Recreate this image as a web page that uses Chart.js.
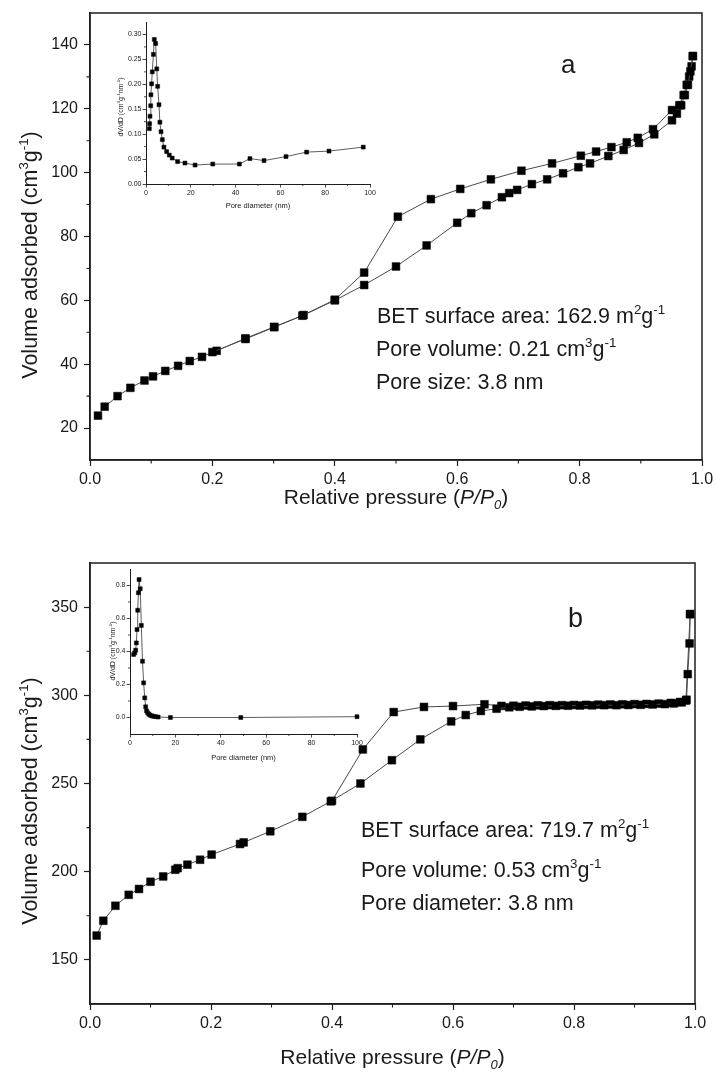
<!DOCTYPE html>
<html>
<head>
<meta charset="utf-8">
<script src="https://cdn.jsdelivr.net/npm/chart.js@4.4.0/dist/chart.umd.min.js"></script>
<style>
  html, body { margin: 0; padding: 0; background: #fff; }
  #wrap { position: relative; width: 715px; height: 1075px; overflow: hidden; }
  canvas { position: absolute; }
</style>
</head>
<body>
<div id="wrap">
  <canvas id="mainA" width="715" height="530" style="left:0;top:0"></canvas>
  <canvas id="insetA" width="280" height="200" style="left:100px;top:15px"></canvas>
  <canvas id="mainB" width="715" height="545" style="left:0;top:530px"></canvas>
  <canvas id="insetB" width="285" height="205" style="left:85px;top:560px"></canvas>
</div>
<script>
// ---- panel a: isotherm ----
const adsAx = [0.013, 0.024, 0.045, 0.066, 0.089, 0.103, 0.123, 0.144, 0.163, 0.183, 0.200, 0.254, 0.301, 0.347, 0.400, 0.448, 0.500, 0.550, 0.600, 0.623, 0.648, 0.673, 0.685, 0.698, 0.722, 0.747, 0.773, 0.798, 0.817, 0.847, 0.872, 0.897, 0.922, 0.951, 0.959, 0.966, 0.972, 0.977, 0.981, 0.985];
const adsAy = [23.9, 26.7, 30.0, 32.6, 34.9, 36.2, 37.9, 39.5, 41.0, 42.3, 43.8, 47.9, 51.6, 55.2, 60.0, 64.8, 70.6, 77.2, 84.3, 87.3, 89.8, 92.3, 93.6, 94.6, 96.4, 97.9, 99.8, 101.7, 102.9, 105.2, 107.1, 109.3, 112.0, 116.4, 118.5, 121.1, 124.3, 127.5, 131.7, 136.5];
const desAx = [0.985, 0.983, 0.979, 0.975, 0.970, 0.963, 0.951, 0.920, 0.895, 0.877, 0.852, 0.827, 0.802, 0.755, 0.705, 0.655, 0.605, 0.557, 0.503, 0.448, 0.400, 0.349, 0.301, 0.254, 0.207];
const desAy = [136.5, 133.3, 130.1, 127.5, 124.3, 121.1, 119.6, 113.6, 110.9, 109.5, 108.0, 106.6, 105.3, 102.9, 100.6, 97.9, 94.9, 91.7, 86.2, 68.7, 60.2, 55.4, 51.7, 48.1, 44.2];

// ---- panel a: pore size distribution (inset) ----
const insAx = [1.5, 1.6, 1.8, 2.1, 2.2, 2.5, 2.8, 3.3, 3.7, 4.3, 4.8, 5.2, 5.8, 6.2, 6.7, 7.3, 8.0, 9.2, 10.4, 11.7, 14.1, 17.4, 21.9, 29.8, 41.7, 46.4, 52.7, 62.5, 71.7, 81.7, 97.0];
const insAy = [0.111, 0.121, 0.136, 0.157, 0.179, 0.201, 0.225, 0.260, 0.290, 0.282, 0.231, 0.196, 0.159, 0.124, 0.105, 0.089, 0.074, 0.065, 0.058, 0.052, 0.045, 0.042, 0.038, 0.040, 0.040, 0.051, 0.047, 0.055, 0.064, 0.066, 0.074];

// ---- panel b: isotherm ----
const adsBx = [0.011, 0.022, 0.042, 0.064, 0.081, 0.100, 0.121, 0.141, 0.145, 0.161, 0.182, 0.201, 0.248, 0.254, 0.298, 0.351, 0.398, 0.447, 0.499, 0.546, 0.597, 0.621, 0.646, 0.672, 0.693, 0.710, 0.730, 0.750, 0.770, 0.790, 0.810, 0.830, 0.850, 0.870, 0.890, 0.910, 0.930, 0.950, 0.965, 0.978, 0.986, 0.988, 0.991, 0.992];
const adsBy = [163.8, 172.2, 180.7, 186.9, 190.2, 194.3, 197.3, 201.1, 202.0, 204.0, 206.8, 209.7, 215.7, 216.6, 222.9, 231.1, 239.9, 250.0, 263.2, 275.0, 285.2, 288.8, 291.1, 292.4, 293.2, 293.5, 293.7, 293.9, 294.0, 294.1, 294.2, 294.3, 294.4, 294.4, 294.5, 294.6, 294.8, 295.0, 295.4, 296.0, 297.5, 312.0, 329.4, 346.0];
const desBx = [0.992, 0.985, 0.975, 0.960, 0.940, 0.920, 0.900, 0.880, 0.860, 0.840, 0.820, 0.800, 0.780, 0.760, 0.740, 0.720, 0.700, 0.680, 0.652, 0.600, 0.552, 0.502, 0.451, 0.400];
const desBy = [346.0, 297.0, 296.2, 295.7, 295.3, 295.1, 295.0, 294.9, 294.8, 294.7, 294.6, 294.5, 294.4, 294.4, 294.3, 294.2, 294.1, 294.0, 294.9, 293.9, 293.4, 290.5, 269.3, 240.2];

// ---- panel b: pore size distribution (inset) ----
const insBx = [1.6, 2.1, 2.5, 2.8, 3.1, 3.4, 3.7, 4.0, 4.5, 5.0, 5.5, 6.0, 6.5, 6.9, 7.3, 7.8, 8.3, 8.9, 9.6, 10.4, 11.3, 12.4, 17.8, 48.8, 100];
const insBy = [0.382, 0.392, 0.408, 0.452, 0.533, 0.650, 0.756, 0.836, 0.780, 0.558, 0.341, 0.210, 0.119, 0.065, 0.040, 0.028, 0.020, 0.014, 0.010, 0.007, 0.005, 0.003, 0.000, 0.000, 0.005];

// ---- ticks ----
const xTicksMain = [0, 0.2, 0.4, 0.6, 0.8, 1.0];
const xMinorMain = [0.1, 0.3, 0.5, 0.7, 0.9];
const yTicksA = [20, 40, 60, 80, 100, 120, 140];
const yMinorA = [30, 50, 70, 90, 110, 130];
const yTicksB = [150, 200, 250, 300, 350];
const yMinorB = [175, 225, 275, 325];
const xTicksIns = [0, 20, 40, 60, 80, 100];
const xMinorIns = [10, 30, 50, 70, 90];
const yTicksInsA = [0, 0.05, 0.10, 0.15, 0.20, 0.25, 0.30];
const yMinorInsA = [0.025, 0.075, 0.125, 0.175, 0.225, 0.275];
const yTicksInsB = [0, 0.2, 0.4, 0.6, 0.8];
const yMinorInsB = [0.1, 0.3, 0.5, 0.7];

const F = '"Liberation Sans", Arial, sans-serif';
const AXIS = '#1e1e1e';
const TXT = '#1a1a1a';

// draws text with superscript / subscript / italic pieces
function richText(ctx, parts, x, y, size, align) {
  const fontFor = m => {
    const small = (m === 'sup' || m === 'sub' || m === 'isub');
    const it = (m === 'i' || m === 'isub') ? 'italic ' : '';
    return it + (small ? size * 0.62 : size) + 'px ' + F;
  };
  let w = 0;
  parts.forEach(p => { ctx.font = fontFor(p[1]); w += ctx.measureText(p[0]).width; });
  let cx = align === 'center' ? x - w / 2 : x;
  ctx.textAlign = 'left';
  ctx.textBaseline = 'alphabetic';
  parts.forEach(p => {
    ctx.font = fontFor(p[1]);
    let dy = 0;
    if (p[1] === 'sup') dy = -size * 0.42;
    if (p[1] === 'sub' || p[1] === 'isub') dy = size * 0.22;
    ctx.fillText(p[0], cx, y + dy);
    cx += ctx.measureText(p[0]).width;
  });
}

function decor(cfg) {
  return {
    id: 'decor',
    afterDraw(chart) {
      const ctx = chart.ctx;
      const a = chart.chartArea;
      const xs = chart.scales.x, ys = chart.scales.y;
      ctx.save();
      ctx.strokeStyle = AXIS;
      if (cfg.frame) {
        ctx.lineWidth = 1.5;
        ctx.strokeRect(a.left, a.top, a.right - a.left, a.bottom - a.top);
      }
      ctx.lineWidth = cfg.minorW;
      ctx.beginPath();
      cfg.minorX.forEach(v => {
        const px = xs.getPixelForValue(v);
        ctx.moveTo(px, a.bottom);
        ctx.lineTo(px, a.bottom + cfg.minorLen);
      });
      cfg.minorY.forEach(v => {
        const py = ys.getPixelForValue(v);
        ctx.moveTo(a.left, py);
        ctx.lineTo(a.left - cfg.minorLen, py);
      });
      ctx.stroke();

      ctx.fillStyle = TXT;
      const xt = cfg.xTitle;
      richText(ctx, xt.parts, (a.left + a.right) / 2, xt.y, xt.size, 'center');
      const yt = cfg.yTitle;
      ctx.save();
      ctx.translate(yt.x, yt.cy);
      ctx.rotate(-Math.PI / 2);
      richText(ctx, yt.parts, 0, 0, yt.size, 'center');
      ctx.restore();
      (cfg.notes || []).forEach(n => richText(ctx, n.parts, n.x, n.y, n.size, 'left'));
      ctx.restore();
    }
  };
}

function pts(xs, ys) { return xs.map((x, i) => ({ x: x, y: ys[i] })); }

function series(xs, ys, r, lw, lc) {
  return {
    data: pts(xs, ys), showLine: true, borderColor: lc, borderWidth: lw,
    pointStyle: 'rect', pointRadius: r, pointBackgroundColor: '#000',
    pointBorderColor: '#000', pointBorderWidth: 0.5, clip: false, tension: 0
  };
}

function axis(o) {
  return {
    type: 'linear', min: o.min, max: o.max,
    afterBuildTicks: s => { s.ticks = o.ticks.map(v => ({ value: v })); },
    ticks: {
      callback: o.fmt, font: { family: F, size: o.font }, color: TXT,
      padding: o.pad, maxRotation: 0, autoSkip: false
    },
    grid: { drawOnChartArea: false, tickLength: o.tl, color: AXIS, tickColor: AXIS, tickWidth: o.tw },
    border: { color: AXIS, width: o.bw },
    afterFit: s => {
      if (o.w !== undefined) s.width = o.w;
      if (o.h !== undefined) s.height = o.h;
      s.paddingTop = s.paddingBottom = s.paddingLeft = s.paddingRight = 0;
    }
  };
}

function build(id, datasets, x, y, pad, plug) {
  return new Chart(document.getElementById(id), {
    type: 'scatter',
    data: { datasets: datasets },
    options: {
      responsive: false, animation: false, devicePixelRatio: 1,
      layout: { padding: pad },
      plugins: { legend: { display: false }, tooltip: { enabled: false } },
      scales: { x: x, y: y }
    },
    plugins: [plug]
  });
}

const fmt1 = v => v.toFixed(1);
const fmt0 = v => String(v);
const fmt2 = v => v.toFixed(2);

const xTitleParts = [['Relative pressure (', ''], ['P/P', 'i'], ['0', 'isub'], [')', '']];
const yTitleParts = [['Volume adsorbed (cm', ''], ['3', 'sup'], ['g', ''], ['-1', 'sup'], [')', '']];
const insYParts = [['dV/dD (cm', ''], ['3', 'sup'], ['g', ''], ['-1', 'sup'], ['nm', ''], ['-1', 'sup'], [')', '']];
const insXParts = [['Pore diameter (nm)', '']];

// main a: chart area 90..702 x 13..460
build('mainA',
  [series(adsAx, adsAy, 5.5, 1, '#4a4a4a'), series(desAx, desAy, 5.5, 1, '#4a4a4a')],
  axis({ min: 0, max: 1, ticks: xTicksMain, fmt: fmt1, font: 16, pad: 4, tl: 6, tw: 1.2, bw: 1.5, h: 70 }),
  axis({ min: 10, max: 150, ticks: yTicksA, fmt: fmt0, font: 16, pad: 6, tl: 6, tw: 1.2, bw: 1.5, w: 90 }),
  { left: 0, top: 13, right: 13, bottom: 0 },
  decor({
    frame: true, minorX: xMinorMain, minorY: yMinorA, minorLen: 3.5, minorW: 1.1,
    xTitle: { parts: xTitleParts, y: 504, size: 21 },
    yTitle: { parts: yTitleParts, x: 37, cy: 255, size: 21.5 },
    notes: [
      { parts: [['a', '']], x: 561, y: 73, size: 26 },
      { parts: [['BET surface area: 162.9 m', ''], ['2', 'sup'], ['g', ''], ['-1', 'sup']], x: 377, y: 323, size: 21.5 },
      { parts: [['Pore volume: 0.21 cm', ''], ['3', 'sup'], ['g', ''], ['-1', 'sup']], x: 376, y: 356, size: 21.5 },
      { parts: [['Pore size: 3.8 nm', '']], x: 376, y: 389, size: 21.5 }
    ]
  })
);

// inset a: chart area 146..370 x 22..184 (page)
build('insetA',
  [series(insAx, insAy, 2.8, 0.8, '#333')],
  axis({ min: 0, max: 100, ticks: xTicksIns, fmt: fmt0, font: 7, pad: 1, tl: 3.5, tw: 0.8, bw: 1, h: 31 }),
  axis({ min: 0, max: 0.325, ticks: yTicksInsA, fmt: fmt2, font: 7, pad: 1, tl: 3.5, tw: 0.8, bw: 1, w: 46 }),
  { left: 0, top: 7, right: 10, bottom: 0 },
  decor({
    frame: false, minorX: xMinorIns, minorY: yMinorInsA, minorLen: 2, minorW: 0.8,
    xTitle: { parts: insXParts, y: 193, size: 7.5 },
    yTitle: { parts: insYParts, x: 23, cy: 92, size: 7 }
  })
);

// main b: chart area 90..695 x 563..1004 (page)
build('mainB',
  [series(adsBx, adsBy, 5.5, 1, '#4a4a4a'), series(desBx, desBy, 5.5, 1, '#4a4a4a')],
  axis({ min: 0, max: 1, ticks: xTicksMain, fmt: fmt1, font: 16, pad: 4, tl: 6, tw: 1.2, bw: 1.5, h: 71 }),
  axis({ min: 125, max: 375, ticks: yTicksB, fmt: fmt0, font: 16, pad: 6, tl: 6, tw: 1.2, bw: 1.5, w: 90 }),
  { left: 0, top: 33, right: 20, bottom: 0 },
  decor({
    frame: true, minorX: xMinorMain, minorY: yMinorB, minorLen: 3.5, minorW: 1.1,
    xTitle: { parts: xTitleParts, y: 534, size: 21 },
    yTitle: { parts: yTitleParts, x: 37, cy: 271, size: 21.5 },
    notes: [
      { parts: [['b', '']], x: 568, y: 97, size: 27 },
      { parts: [['BET surface area: 719.7 m', ''], ['2', 'sup'], ['g', ''], ['-1', 'sup']], x: 361, y: 307, size: 21.5 },
      { parts: [['Pore volume: 0.53 cm', ''], ['3', 'sup'], ['g', ''], ['-1', 'sup']], x: 361, y: 347, size: 21.5 },
      { parts: [['Pore diameter: 3.8 nm', '']], x: 361, y: 380, size: 21.5 }
    ]
  })
);

// inset b: chart area 130..357 x 569..734 (page)
build('insetB',
  [series(insBx, insBy, 2.8, 0.8, '#333')],
  axis({ min: 0, max: 100, ticks: xTicksIns, fmt: fmt0, font: 7, pad: 1, tl: 3.5, tw: 0.8, bw: 1, h: 31 }),
  axis({ min: -0.1, max: 0.9, ticks: yTicksInsB, fmt: fmt1, font: 7, pad: 1, tl: 3.5, tw: 0.8, bw: 1, w: 45 }),
  { left: 0, top: 9, right: 13, bottom: 0 },
  decor({
    frame: false, minorX: xMinorIns, minorY: yMinorInsB, minorLen: 2, minorW: 0.8,
    xTitle: { parts: insXParts, y: 200, size: 7.5 },
    yTitle: { parts: insYParts, x: 30, cy: 91, size: 7 }
  })
);
</script>
</body>
</html>
